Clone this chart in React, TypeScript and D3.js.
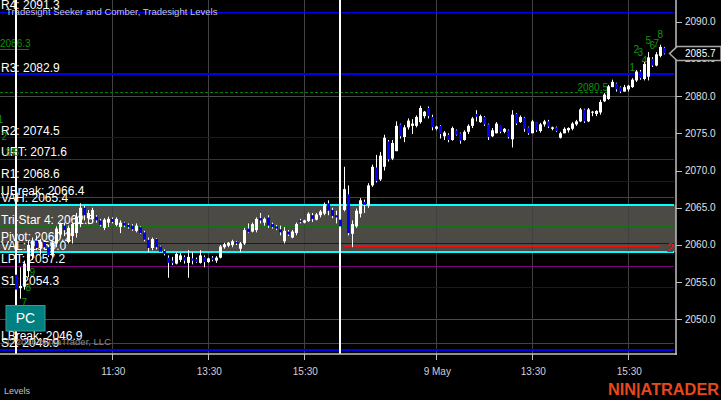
import React from "react";
import * as d3 from "d3";

type Bar = [number, number, number, number]; // open, high, low, close

// Day 1 session (5-minute bars, bar index 0..80)
const day1Bars: Bar[] = [
  [2056.0, 2058.2, 2052.2, 2054.0], [2054.2, 2057.0, 2052.8, 2054.5], [2054.4, 2057.9, 2054.0, 2057.5],
  [2056.5, 2060.6, 2055.7, 2060.0], [2058.5, 2061.0, 2058.0, 2060.6], [2060.6, 2061.3, 2059.3, 2059.6],
  [2059.6, 2060.8, 2058.7, 2060.4], [2060.4, 2060.6, 2059.4, 2059.7], [2059.7, 2060.0, 2058.4, 2058.6],
  [2058.6, 2060.6, 2058.4, 2060.3], [2060.2, 2062.5, 2059.7, 2062.2], [2061.4, 2063.0, 2061.0, 2062.8],
  [2062.6, 2063.0, 2061.2, 2062.0], [2060.4, 2062.6, 2060.2, 2062.3], [2061.2, 2063.0, 2060.2, 2062.8],
  [2061.6, 2064.3, 2061.0, 2063.8], [2062.8, 2065.6, 2062.4, 2065.0], [2065.0, 2065.3, 2063.3, 2064.0],
  [2063.6, 2064.7, 2062.8, 2064.3], [2063.5, 2065.0, 2063.0, 2064.7], [2063.8, 2064.0, 2063.0, 2063.3],
  [2063.3, 2063.5, 2062.5, 2062.7], [2062.3, 2063.6, 2062.0, 2063.4], [2063.0, 2063.8, 2062.4, 2063.5],
  [2063.5, 2063.7, 2062.9, 2063.1], [2062.7, 2063.7, 2062.5, 2063.5], [2062.4, 2063.3, 2061.6, 2063.0],
  [2063.0, 2063.1, 2062.4, 2062.6], [2062.7, 2062.9, 2062.2, 2062.4], [2062.6, 2062.8, 2061.9, 2062.1],
  [2061.9, 2062.9, 2061.7, 2062.6], [2062.4, 2062.5, 2061.5, 2061.6], [2061.7, 2061.9, 2060.5, 2060.7],
  [2060.7, 2061.0, 2059.0, 2059.6], [2059.6, 2061.0, 2059.3, 2060.8], [2060.8, 2060.9, 2059.4, 2059.7],
  [2059.8, 2059.9, 2059.0, 2059.1], [2059.2, 2059.4, 2058.6, 2058.8], [2058.3, 2058.6, 2055.6, 2057.6],
  [2057.9, 2058.4, 2057.3, 2057.6], [2057.5, 2059.0, 2057.4, 2058.8], [2058.0, 2058.9, 2057.7, 2058.6],
  [2058.4, 2058.6, 2057.5, 2057.9], [2057.6, 2059.3, 2055.6, 2058.4], [2058.2, 2059.0, 2057.4, 2057.9],
  [2058.1, 2058.3, 2057.6, 2057.7], [2057.6, 2059.3, 2057.5, 2058.6], [2058.4, 2058.6, 2057.0, 2057.7],
  [2057.7, 2058.3, 2057.6, 2058.2], [2058.3, 2058.5, 2057.8, 2058.0], [2057.9, 2058.5, 2057.6, 2058.3],
  [2058.3, 2060.0, 2058.2, 2059.8], [2059.7, 2060.3, 2059.5, 2060.1], [2059.9, 2060.4, 2059.7, 2060.3],
  [2060.0, 2060.7, 2059.7, 2060.5], [2060.4, 2060.5, 2060.0, 2060.2], [2059.5, 2060.4, 2059.0, 2060.2],
  [2060.2, 2062.3, 2060.0, 2062.0], [2062.2, 2062.9, 2061.6, 2061.7], [2061.8, 2063.0, 2061.7, 2062.8],
  [2062.0, 2063.7, 2061.7, 2063.5], [2063.6, 2064.3, 2062.9, 2063.3], [2063.0, 2063.7, 2062.6, 2063.5],
  [2063.7, 2064.0, 2062.3, 2062.6], [2062.8, 2063.0, 2062.2, 2062.4], [2062.5, 2062.7, 2062.0, 2062.2],
  [2062.1, 2062.6, 2061.3, 2061.7], [2060.5, 2062.4, 2060.2, 2061.9], [2061.8, 2062.0, 2061.2, 2061.4],
  [2061.0, 2062.0, 2060.9, 2061.8], [2061.6, 2063.0, 2061.3, 2062.8], [2063.3, 2063.5, 2062.9, 2063.1],
  [2063.0, 2063.4, 2062.9, 2063.3], [2063.2, 2064.4, 2063.1, 2064.2], [2064.0, 2064.3, 2063.1, 2063.5],
  [2063.4, 2064.3, 2063.3, 2064.1], [2064.0, 2064.7, 2063.7, 2064.5], [2064.2, 2065.7, 2064.0, 2065.5],
  [2065.6, 2066.0, 2064.0, 2064.6], [2064.7, 2065.0, 2063.6, 2063.9], [2064.0, 2064.6, 2062.9, 2063.7],
];

// Day 2 session (bar index 81..162)
const day2Bars: Bar[] = [
  [2063.4, 2063.6, 2062.3, 2062.5], [2064.7, 2070.5, 2064.5, 2067.5], [2066.8, 2068.0, 2061.3, 2061.6],
  [2061.5, 2063.3, 2059.7, 2062.8], [2062.5, 2064.9, 2062.3, 2064.6], [2064.2, 2066.3, 2063.7, 2066.0],
  [2065.8, 2066.1, 2064.3, 2065.4], [2065.3, 2068.3, 2065.0, 2068.0], [2068.0, 2070.8, 2067.8, 2070.5],
  [2070.4, 2072.1, 2068.4, 2068.6], [2068.8, 2072.5, 2068.6, 2072.0], [2070.5, 2074.8, 2070.0, 2074.4],
  [2073.9, 2074.1, 2071.2, 2071.5], [2071.6, 2074.1, 2071.4, 2073.7], [2072.6, 2076.6, 2072.6, 2076.0],
  [2076.2, 2076.3, 2074.3, 2074.6], [2074.5, 2076.1, 2073.8, 2075.8], [2075.8, 2077.0, 2075.5, 2076.7],
  [2076.0, 2076.9, 2074.9, 2076.3], [2076.0, 2077.4, 2075.8, 2077.2], [2076.5, 2078.7, 2076.3, 2078.4],
  [2077.3, 2078.0, 2077.0, 2077.9], [2078.4, 2078.6, 2077.0, 2077.3], [2077.2, 2077.5, 2075.4, 2075.8],
  [2075.6, 2076.0, 2075.4, 2075.9], [2076.0, 2076.1, 2074.3, 2074.9], [2074.6, 2075.3, 2074.1, 2075.1],
  [2074.8, 2075.0, 2073.8, 2074.1], [2074.1, 2075.9, 2074.0, 2075.7], [2075.4, 2075.5, 2074.7, 2074.8],
  [2075.0, 2075.1, 2073.6, 2074.0], [2074.1, 2075.4, 2074.0, 2075.2], [2075.2, 2076.2, 2074.9, 2076.0],
  [2076.0, 2077.2, 2075.7, 2077.0], [2077.6, 2078.1, 2076.6, 2077.2], [2076.5, 2077.5, 2076.4, 2077.3],
  [2077.2, 2077.3, 2076.0, 2076.2], [2076.2, 2076.3, 2074.1, 2074.5], [2074.6, 2075.7, 2074.5, 2075.4],
  [2075.0, 2076.5, 2075.0, 2076.3], [2076.0, 2076.0, 2075.0, 2075.2], [2075.2, 2075.7, 2075.0, 2075.6],
  [2075.4, 2075.5, 2074.3, 2074.5], [2074.2, 2078.1, 2073.1, 2077.5], [2077.6, 2077.7, 2076.1, 2076.3],
  [2076.5, 2077.4, 2076.4, 2077.2], [2077.1, 2077.2, 2075.2, 2075.6], [2075.8, 2075.9, 2074.8, 2075.0],
  [2075.0, 2076.8, 2075.0, 2076.6], [2076.5, 2076.5, 2075.2, 2075.4], [2075.3, 2076.4, 2075.1, 2076.2],
  [2076.2, 2076.8, 2075.9, 2076.6], [2076.6, 2076.8, 2075.7, 2075.9], [2075.6, 2075.9, 2075.4, 2075.8],
  [2075.8, 2075.9, 2075.2, 2075.3], [2074.4, 2075.2, 2074.3, 2075.0], [2075.0, 2075.8, 2075.0, 2075.6],
  [2075.4, 2075.8, 2075.1, 2075.7], [2075.6, 2076.5, 2075.4, 2076.3], [2076.2, 2076.8, 2076.0, 2076.6],
  [2076.6, 2078.4, 2076.5, 2078.2], [2078.2, 2078.3, 2076.4, 2076.6], [2076.6, 2078.4, 2076.5, 2078.2],
  [2077.8, 2078.0, 2077.3, 2077.9], [2077.6, 2078.1, 2077.3, 2078.0], [2077.8, 2079.5, 2077.5, 2079.2],
  [2079.3, 2080.4, 2079.2, 2080.2], [2079.6, 2081.5, 2079.5, 2081.3], [2081.2, 2082.2, 2081.2, 2081.9],
  [2081.7, 2081.8, 2080.6, 2080.9], [2081.2, 2081.3, 2080.4, 2080.6], [2080.6, 2081.5, 2080.6, 2081.2],
  [2080.9, 2081.5, 2080.6, 2081.4], [2081.2, 2082.4, 2081.1, 2082.2], [2082.1, 2083.5, 2081.9, 2083.3],
  [2083.3, 2083.5, 2082.2, 2082.4], [2082.3, 2084.6, 2082.1, 2084.3], [2082.6, 2085.9, 2082.1, 2085.2],
  [2085.0, 2085.2, 2083.9, 2084.1], [2084.1, 2085.9, 2084.0, 2085.6], [2085.4, 2086.9, 2085.2, 2086.6],
  [2086.5, 2086.6, 2085.6, 2085.7],
];

const sessionStarts = [0, 81];
const xTickIdx = [24, 48, 72, 105, 129, 153];
const xTickLabels = ["11:30", "13:30", "15:30", "9 May", "13:30", "15:30"];
const yTickValues = [2050, 2055, 2060, 2065, 2070, 2075, 2080, 2085, 2090];
const yGridValues = [2050, 2065, 2080];

// Tradesight levels
const levelNames = ["R4", "R3", "R2", "UPT", "R1", "UBreak", "VAH", "Tri-Star 4", "Pivot", "VAL", "LPT", "S1", "LBreak", "S2"];
const levelValues = [2091.3, 2082.9, 2074.5, 2071.6, 2068.6, 2066.4, 2065.4, 2062.5, 2060.2, 2059.0, 2057.2, 2054.3, 2046.9, 2045.9];
const levelKinds = ["R", "R3", "R", "PT", "R", "BRK", "VA", "TS", "R", "VA", "PT", "R", "BRK", "S2"];

// Seeker / Comber counts
const countIdx = [-4, -3, -2, -1, 0, 2, 3, 4, 154, 155, 156, 157, 158, 159, 160, 161];
const countText = ["1", "2", "3", "4", "5", "7", "8", "9", "1", "2", "3", "4", "5", "6", "7", "8"];
const countPrice = [2076.4, 2074.1, 2071.9, 2071.9, 2071.9, 2051.8, 2053.8, 2055.8, 2083.3, 2085.74, 2085.42, 2084.3, 2087.0, 2086.3, 2086.55, 2087.76];

const greenDashValue = 2080.5;
const greenDashOldValue = 2086.3;
const redLevelValue = 2059.9;
const redLevelStartIdx = 82;
const redLevelEndIdx = 161;
const lastPrice = 2085.7;

const kindStyle: Record<string, { color: string; width: number }> = {
  R: { color: "#0000ee", width: 1 },
  R3: { color: "#0000ee", width: 2 },
  S2: { color: "#0000ee", width: 2 },
  PT: { color: "#800080", width: 1 },
  BRK: { color: "#e00000", width: 1 },
  VA: { color: "#00ffff", width: 2 },
  TS: { color: "#008000", width: 1.5 },
};

const W = 721;
const H = 400;
const PLOT_R = 676;
const PLOT_B = 354;
const FONT = "Arial, 'Liberation Sans', sans-serif";

export default function App() {
  const bars = [...day1Bars, ...day2Bars];
  const x = d3.scaleLinear().domain([0, 162]).range([16.3, 664.3]);
  const y = d3.scaleLinear().domain([2045.36, 2092.9]).range([PLOT_B, 0]);
  const crisp = (v: number) => Math.round(v) + 0.5;

  const vaTop = y(levelValues[6]);
  const vaBot = y(levelValues[9]);

  return (
    <div style={{ position: "fixed", left: 0, top: 0, width: W, height: H, background: "#000" }}>
      <svg width={W} height={H} style={{ display: "block" }} fontFamily={FONT}>
        <rect x={0} y={0} width={W} height={H} fill="#000" />
        {/* value area box */}
        <rect x={0} y={vaTop} width={PLOT_R} height={vaBot - vaTop} fill="#4b4a44" />
        {/* grid */}
        {yGridValues.map((v) => (
          <line key={"gy" + v} x1={0} x2={PLOT_R} y1={crisp(y(v))} y2={crisp(y(v))} stroke="#4a4a4a" strokeWidth={1} />
        ))}
        {xTickIdx.map((k) => (
          <line key={"gx" + k} x1={crisp(x(k))} x2={crisp(x(k))} y1={0} y2={PLOT_B} stroke="#404040" strokeWidth={1} />
        ))}
        {/* level lines */}
        {levelValues.map((v, i) => {
          const st = kindStyle[levelKinds[i]];
          const yy = st.width === 1 ? crisp(y(v)) : Math.round(y(v));
          return <line key={"lv" + i} x1={0} x2={PLOT_R - 2} y1={yy} y2={yy} stroke={st.color} strokeWidth={st.width} />;
        })}
        {/* green dashed lines */}
        <line x1={0} x2={608} y1={crisp(y(greenDashValue))} y2={crisp(y(greenDashValue))} stroke="#008000" strokeWidth={1} strokeDasharray="3,2" />
        <text x={608} y={y(greenDashValue) - 1.5} fill="#109010" fontSize={10} textAnchor="end">{greenDashValue.toFixed(1)}</text>
        <line x1={0} x2={29} y1={crisp(y(greenDashOldValue))} y2={crisp(y(greenDashOldValue))} stroke="#008000" strokeWidth={1} />
        <text x={0} y={y(greenDashOldValue) - 2} fill="#109010" fontSize={10}>{greenDashOldValue.toFixed(1)}</text>
        {/* red naked level */}
        <line x1={x(redLevelStartIdx)} x2={x(redLevelEndIdx)} y1={Math.round(y(redLevelValue))} y2={Math.round(y(redLevelValue))} stroke="#ee1010" strokeWidth={2} />
        <text x={667} y={y(redLevelValue) + 6} fill="#ee1010" fontSize={12}>2</text>
        {/* level labels */}
        {levelValues.map((v, i) => (
          <text key={"lt" + i} x={1} y={y(v) - 2.5} fill="#ffffff" fontSize={12}>
            {levelNames[i]}: {v.toFixed(1)}
          </text>
        ))}
        {/* session break lines */}
        {sessionStarts.map((k) => (
          <rect key={"ss" + k} x={Math.round(x(k)) - 1} y={0} width={2} height={PLOT_B} fill="#ffffff" />
        ))}
        {/* candles */}
        {bars.map((b, k) => {
          const [o, h, l, c] = b;
          const xc = Math.round(x(k));
          const up = c >= o;
          const top = y(Math.max(o, c));
          const bh = Math.max(1, Math.abs(y(o) - y(c)));
          return (
            <g key={"b" + k}>
              <rect x={xc} y={y(h)} width={1} height={Math.max(1, y(l) - y(h))} fill="#ffffff" />
              <rect x={xc - 1} y={top} width={3} height={bh} fill={up ? "#ffffff" : "#0000ff"} />
            </g>
          );
        })}
        {/* counts */}
        {countIdx.map((k, i) => (
          <text key={"ct" + i} x={x(k)} y={y(countPrice[i])} fill="#129612" fontSize={10} textAnchor="middle">
            {countText[i]}
          </text>
        ))}
        {/* title and misc text */}
        <text x={6} y={15} fill="#c8c8c8" fontSize={9.5}>Tradesight Seeker and Comber, Tradesight Levels</text>
        <text x={111} y={345} fill="#8a8a8a" fontSize={9.5} textAnchor="end">© 2016 NinjaTrader, LLC</text>
        {/* PC box */}
        <rect x={6} y={305.5} width={39} height={25.5} fill="#008080" stroke="#3a9a9a" strokeWidth={1} />
        <text x={25.5} y={323} fill="#ffffff" fontSize={14} textAnchor="middle">PC</text>
        {/* axes */}
        <line x1={PLOT_R} x2={PLOT_R} y1={0} y2={PLOT_B + 1} stroke="#c0c0c0" strokeWidth={1.5} />
        <line x1={0} x2={PLOT_R + 1} y1={PLOT_B} y2={PLOT_B} stroke="#c0c0c0" strokeWidth={1.5} />
        {yTickValues.map((v) => (
          <g key={"yt" + v}>
            <line x1={PLOT_R} x2={PLOT_R + 6} y1={crisp(y(v))} y2={crisp(y(v))} stroke="#c0c0c0" strokeWidth={1} />
            <text x={685} y={y(v) + 3.5} fill="#e0e0e8" fontSize={10}>{v.toFixed(1)}</text>
          </g>
        ))}
        {xTickIdx.map((k, i) => (
          <g key={"xt" + k}>
            <line x1={crisp(x(k))} x2={crisp(x(k))} y1={PLOT_B} y2={PLOT_B + 6} stroke="#c0c0c0" strokeWidth={1} />
            <text x={x(k) + 1} y={375} fill="#d0d0d8" fontSize={10} textAnchor="middle">{xTickLabels[i]}</text>
          </g>
        ))}
        {/* last price marker */}
        <polygon
          points={`${669.5},${y(lastPrice)} ${677},${y(lastPrice) - 7} ${721},${y(lastPrice) - 7} ${721},${y(lastPrice) + 7} ${677},${y(lastPrice) + 7}`}
          fill="#000"
          stroke="#a8a8a8"
          strokeWidth={1.5}
        />
        <text x={685} y={y(lastPrice) + 3.5} fill="#ffffff" fontSize={10}>{lastPrice.toFixed(1)}</text>
        {/* footer */}
        <text x={4} y={394} fill="#c0c0c0" fontSize={9}>Levels</text>
        <text x={608} y={395} fill="#e8481c" fontSize={16} fontWeight="bold" textLength={111} lengthAdjust="spacingAndGlyphs">NIN|ATRADER</text>
      </svg>
    </div>
  );
}
